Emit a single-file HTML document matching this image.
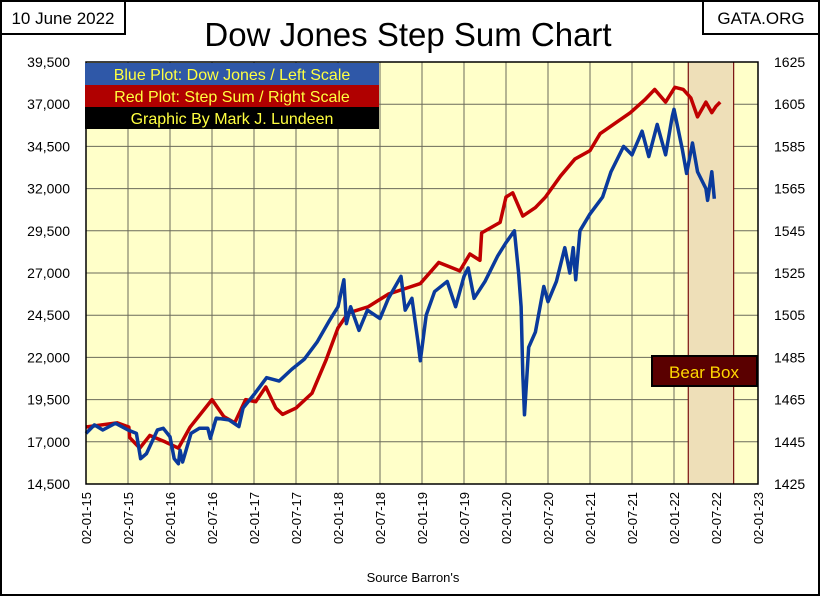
<!DOCTYPE html>
<html><head><meta charset="utf-8"><style>
html,body{margin:0;padding:0;background:#fff;}
svg{display:block;font-family:"Liberation Sans",sans-serif;}
</style></head><body>
<svg id="chart" width="820" height="596" viewBox="0 0 820 596">
<rect x="1" y="1" width="818" height="594" fill="#fff" stroke="#000" stroke-width="2"/>
<g><rect x="1" y="1" width="124" height="33" fill="#fff" stroke="#000" stroke-width="2"/><text x="63" y="24" font-size="17" text-anchor="middle">10 June 2022</text></g>
<g><rect x="703" y="1" width="116" height="33" fill="#fff" stroke="#000" stroke-width="2"/><text x="761" y="24" font-size="17" text-anchor="middle">GATA.ORG</text></g>
<text x="408" y="46" font-size="33" text-anchor="middle">Dow Jones Step Sum Chart</text>
<rect x="86" y="62" width="672" height="422" fill="#ffffc9"/>
<g id="grid"></g>
<rect id="bear" fill="#eedfb8"/>
<g id="bearlines"></g>
<g id="series"></g>
<rect x="86" y="62" width="672" height="422" fill="none" stroke="#000" stroke-width="1.5"/>
<g id="yl"></g>
<g id="yr"></g>
<g id="xl"></g>
<g>
<rect x="85" y="63" width="294" height="22" fill="#2f58a8"/>
<text x="232" y="80" font-size="16" fill="#ffff40" text-anchor="middle">Blue Plot: Dow Jones / Left Scale</text>
<rect x="85" y="85" width="294" height="22" fill="#b00000"/>
<text x="232" y="102" font-size="16" fill="#ffff40" text-anchor="middle">Red Plot: Step Sum / Right Scale</text>
<rect x="85" y="107" width="294" height="22" fill="#000"/>
<text x="232" y="124" font-size="16" fill="#ffff40" text-anchor="middle">Graphic By Mark J. Lundeen</text>
</g>
<g><rect x="652" y="356" width="105" height="30" fill="#5a0000" stroke="#000" stroke-width="2"/><text x="704" y="378" font-size="17" fill="#ffd700" text-anchor="middle">Bear Box</text></g>
<text x="413" y="582" font-size="13" text-anchor="middle">Source Barron's</text>
</svg>
<script>
const xTickLabels=["02-01-15","02-07-15","02-01-16","02-07-16","02-01-17","02-07-17","02-01-18","02-07-18","02-01-19","02-07-19","02-01-20","02-07-20","02-01-21","02-07-21","02-01-22","02-07-22","02-01-23"];
const leftTicks=[14500,17000,19500,22000,24500,27000,29500,32000,34500,37000,39500];
const rightTicks=[1425,1445,1465,1485,1505,1525,1545,1565,1585,1605,1625];
const dowDates=[2015.0,2015.1,2015.2,2015.35,2015.5,2015.6,2015.65,2015.72,2015.85,2015.92,2016.0,2016.05,2016.1,2016.12,2016.15,2016.25,2016.35,2016.45,2016.48,2016.55,2016.7,2016.82,2016.87,2017.0,2017.15,2017.3,2017.45,2017.6,2017.75,2017.9,2018.0,2018.07,2018.1,2018.15,2018.25,2018.35,2018.5,2018.6,2018.75,2018.8,2018.88,2018.95,2018.98,2019.05,2019.15,2019.3,2019.4,2019.5,2019.55,2019.62,2019.75,2019.9,2020.0,2020.1,2020.15,2020.18,2020.2,2020.22,2020.27,2020.35,2020.45,2020.5,2020.6,2020.7,2020.76,2020.8,2020.83,2020.88,2021.0,2021.15,2021.25,2021.4,2021.5,2021.62,2021.7,2021.8,2021.9,2021.98,2022.0,2022.1,2022.15,2022.22,2022.28,2022.38,2022.4,2022.45,2022.48];
const dowValues=[17500,18000,17700,18100,17700,17500,16000,16300,17700,17800,17300,16000,15700,16500,15800,17500,17800,17800,17200,18400,18300,17900,19000,19800,20800,20600,21300,21900,22900,24200,25000,26600,24000,25000,23600,24800,24300,25500,26800,24800,25500,23000,21800,24500,25900,26500,25000,26800,27300,25500,26500,28000,28800,29500,27000,25000,21000,18600,22600,23500,26200,25300,26500,28500,27000,28500,26600,29500,30500,31500,33000,34500,34000,35400,33900,35800,34000,36300,36700,34300,32900,34700,33000,32000,31300,33000,31400];
const stepDates=[2015.0,2015.37,2015.51,2015.52,2015.64,2015.76,2015.94,2016.1,2016.24,2016.5,2016.64,2016.77,2016.9,2017.02,2017.14,2017.26,2017.34,2017.5,2017.69,2017.86,2018.0,2018.12,2018.36,2018.6,2018.83,2018.98,2019.2,2019.45,2019.57,2019.69,2019.71,2019.93,2020.0,2020.08,2020.2,2020.35,2020.47,2020.65,2020.82,2021.0,2021.12,2021.3,2021.48,2021.65,2021.77,2021.9,2022.01,2022.11,2022.2,2022.28,2022.38,2022.45,2022.5,2022.55];
const stepValues=[1452,1454,1452,1447,1442,1448,1445,1442,1452,1465,1457,1454,1465,1464,1471,1461,1458,1461,1468,1484,1499,1506,1509,1515,1518,1520,1530,1526,1534,1531,1544,1549,1561,1563,1552,1556,1561,1571,1579,1583,1591,1596,1601,1607,1612,1606,1613,1612,1608,1599,1606,1601,1604,1606];
const NS="http://www.w3.org/2000/svg";
const L=86,R=758,T=62,B=484;
const xs=d=>L+(d-2015)/8*(R-L);
const yl=v=>B-(v-14500)/25000*(B-T);
const yr=v=>B-(v-1425)/200*(B-T);
function mk(tag,attrs,parent){const e=document.createElementNS(NS,tag);for(const k in attrs)e.setAttribute(k,attrs[k]);parent.appendChild(e);return e;}
const grid=document.getElementById('grid');
xTickLabels.forEach((t,i)=>{const x=xs(2015+i*0.5);
 const ln=mk('line',{x1:x,x2:x,y1:T,y2:B,stroke:'#6b6b5a','stroke-width':1},grid);
 
 
 const tx=mk('text',{x:0,y:0,'font-size':13,'text-anchor':'end',transform:`translate(${x+5},${B+8}) rotate(-90)`},document.getElementById('xl'));
 tx.textContent=t;
 
 
});
leftTicks.forEach(v=>{const y=yl(v);
 const ln=mk('line',{x1:L,x2:R,y1:y,y2:y,stroke:'#6b6b5a','stroke-width':1},grid);
 
 
 const tx=mk('text',{x:70,y:y+5,'font-size':14,'text-anchor':'end'},document.getElementById('yl'));
 tx.textContent=v.toLocaleString('en-US');
 
 
});
rightTicks.forEach(v=>{const y=yr(v);
 const tx=mk('text',{x:774,y:y+5,'font-size':14},document.getElementById('yr'));
 tx.textContent=v;
 
 
});
const bx1=xs(2022.17),bx2=xs(2022.71);
const bear=document.getElementById('bear');
bear.setAttribute('x',bx1);bear.setAttribute('y',T);bear.setAttribute('width',bx2-bx1);bear.setAttribute('height',B-T);
[bx1,bx2].forEach(x=>{const ln=mk('line',{x1:x,x2:x,y1:T,y2:B,stroke:'#7a1010','stroke-width':1.2},document.getElementById('bearlines'));
 
 });
const series=document.getElementById('series');
const red=mk('polyline',{points:stepDates.map((d,i)=>xs(d)+','+yr(stepValues[i])).join(' '),fill:'none',stroke:'#c00000','stroke-width':3.5,'stroke-linejoin':'round'},series);


const blue=mk('polyline',{points:dowDates.map((d,i)=>xs(d)+','+yl(dowValues[i])).join(' '),fill:'none',stroke:'#0a3a9c','stroke-width':3.5,'stroke-linejoin':'round'},series);


</script>
</body></html>
